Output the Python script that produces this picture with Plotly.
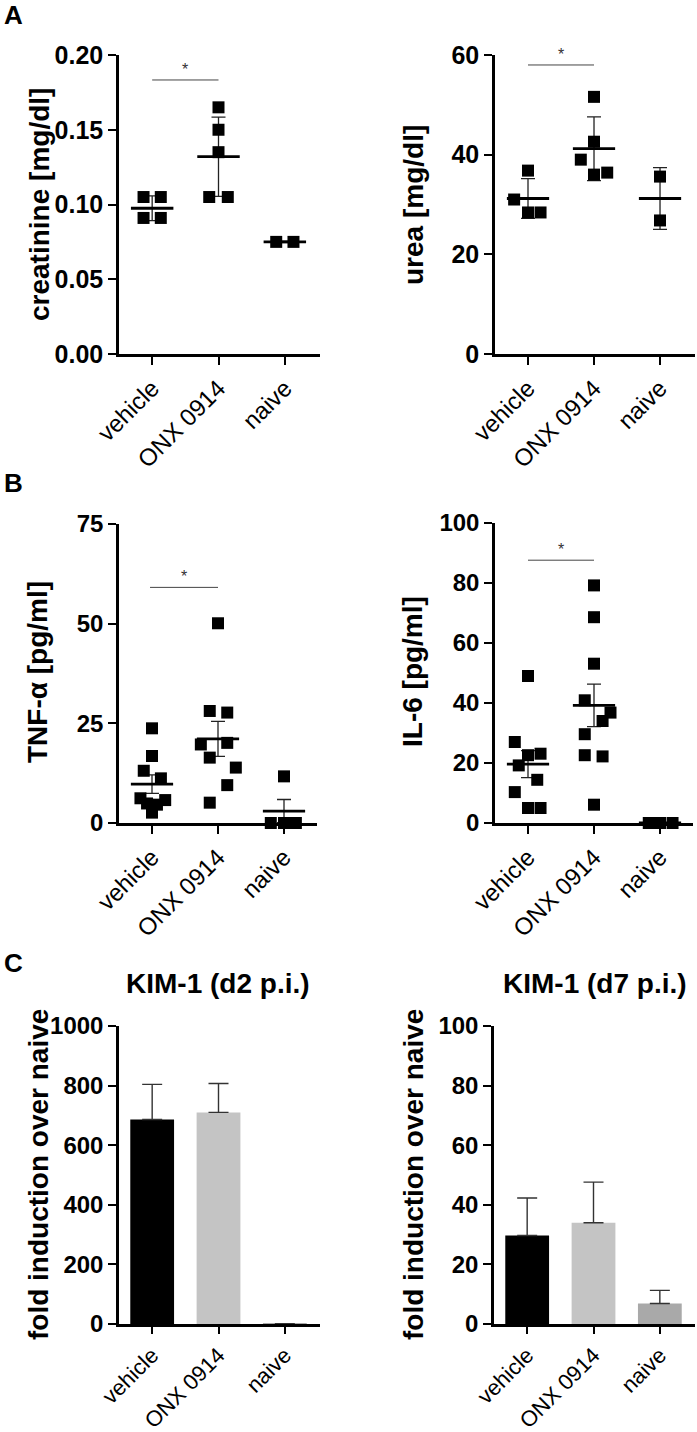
import plotly.graph_objects as go

# ---------------- data ----------------
groups = ["vehicle", "ONX 0914", "naive"]

# Panel A – creatinine [mg/dl]
creat_vehicle = [0.105, 0.105, 0.091, 0.091]
creat_onx = [0.165, 0.150, 0.135, 0.105, 0.105]
creat_naive = [0.075, 0.075]
creat_mean = [0.0975, 0.132, 0.075]
creat_sd = [0.0083, 0.0265, 0.0005]

# Panel A – urea [mg/dl]
urea_vehicle = [31.0, 36.8, 28.4, 28.4]
urea_onx = [51.6, 42.6, 39.0, 36.0, 36.4]
urea_naive = [35.6, 26.8]
urea_mean = [31.2, 41.2, 31.2]
urea_sd = [4.0, 6.4, 6.2]

# Panel B – TNF-α [pg/ml]
tnf_vehicle = [23.75, 16.8, 13.1, 11.2, 6.2, 5.75, 4.9, 4.6, 2.6]
tnf_onx = [50.1, 28.1, 27.7, 19.7, 20.1, 16.4, 13.9, 9.5, 5.1]
tnf_naive = [11.7, 0.0, 0.0, 0.0]
tnf_mean = [9.75, 21.1, 3.0]
tnf_sem = [2.3, 4.4, 2.9]

# Panel B – IL-6 [pg/ml]
il6_vehicle = [49.0, 27.0, 22.6, 23.1, 19.2, 14.4, 10.3, 5.0, 5.0]
il6_onx = [79.2, 68.6, 53.1, 40.9, 36.8, 34.0, 29.6, 22.6, 22.2, 6.1]
il6_naive = [0.0, 0.0, 0.0]
il6_mean = [19.6, 39.2, 0.0]
il6_sem = [4.5, 7.1, 0.0]

# Panel C – KIM-1 fold induction over naive
kim_d2 = [686, 710, 1]
kim_d2_err = [118, 97, 0]
kim_d7 = [29.7, 34.0, 6.9]
kim_d7_err = [12.6, 13.6, 4.4]

# horizontal scatter offsets of the dots (category units)
creat_off = [[-0.13, 0.13, -0.13, 0.13], [0, 0, 0, -0.14, 0.14], [-0.13, 0.13]]
urea_off = [[-0.21, 0, 0, 0.19], [0, 0, -0.2, 0, 0.2], [0, 0]]
tnf_off = [[0, 0, -0.125, 0.135, -0.175, 0.2, -0.075, 0.075, 0],
           [0, -0.125, 0.14, -0.26, 0.14, -0.125, 0.27, 0.14, -0.125],
           [0, -0.2, 0, 0.18]]
il6_off = [[0, -0.2, 0, 0.19, -0.14, 0.14, -0.2, 0, 0.19],
           [0, 0, 0, -0.14, 0.25, 0.13, -0.14, -0.14, 0.13, 0],
           [-0.17, 0, 0.19]]

# ---------------- layout helpers ----------------
W, H = 697, 1432
FONT = "Arial, Liberation Sans, sans-serif"
fig = go.Figure()


def xd(a, b):
    return [a / W, b / W]


def yd(bottom, top):
    return [1 - bottom / H, 1 - top / H]


panels = [
    # name, x-domain px, y-domain px, xrange, yrange, dtick, format, ytick size, xtick size
    ("1", (119, 320), (354, 55), [-0.5, 2.53], [0, 0.2], 0.05, ".2f", 25, 24),
    ("2", (495, 695), (354, 55), [-0.5, 2.53], [0, 60], 20, "d", 25, 24),
    ("3", (119, 317), (823, 524), [-0.5, 2.5], [0, 75], 25, "d", 24, 24),
    ("4", (495, 693), (823, 523), [-0.5, 2.5], [0, 100], 20, "d", 24, 24),
    ("5", (119, 320), (1324, 1026), [-0.5, 2.53], [0, 1000], 200, "d", 24, 22),
    ("6", (494, 695), (1324, 1026), [-0.5, 2.53], [0, 100], 20, "d", 24, 22),
]

layout_axes = {}
for name, xdp, ydp, xr, yr, dt, tf, fs, xfs in panels:
    xk = "xaxis" if name == "1" else "xaxis" + name
    yk = "yaxis" if name == "1" else "yaxis" + name
    xa = "x" if name == "1" else "x" + name
    ya = "y" if name == "1" else "y" + name
    layout_axes[xk] = dict(
        domain=xd(*xdp), range=xr, anchor=ya, tickmode="array",
        tickvals=[0, 1, 2], ticktext=groups, tickangle=-45, automargin=False,
        showline=True, linecolor="black", linewidth=2.5,
        ticks="outside", ticklen=8 if xfs == 24 else 7, tickwidth=2, tickcolor="black",
        showgrid=False, zeroline=False,
        tickfont=dict(family=FONT, size=xfs, color="black"),
    )
    layout_axes[yk] = dict(
        domain=yd(*ydp), range=yr, anchor=xa, dtick=dt, tick0=0, automargin=False,
        tickformat=tf, showline=True, linecolor="black", linewidth=2.5,
        ticks="outside", ticklen=8, tickwidth=2, tickcolor="black",
        showgrid=False, zeroline=False,
        tickfont=dict(family=FONT, size=fs, color="black", weight="bold"),
    )


def dot_panel(ax, groups_vals, offsets, means, errs):
    xa = "x" if ax == "1" else "x" + ax
    ya = "y" if ax == "1" else "y" + ax
    fig.add_trace(go.Scatter(
        x=[0, 1, 2], y=means, mode="markers", xaxis=xa, yaxis=ya,
        marker=dict(size=1, color="rgba(0,0,0,0)"), showlegend=False,
        error_y=dict(type="data", array=errs, visible=True, color="#222222",
                     thickness=1.3, width=7),
        cliponaxis=False, hoverinfo="skip"))
    mx, my = [], []
    for i, m in enumerate(means):
        mx += [i - 0.32, i + 0.32, None]
        my += [m, m, None]
    fig.add_trace(go.Scatter(
        x=mx, y=my, mode="lines", xaxis=xa, yaxis=ya,
        line=dict(color="black", width=2.8), showlegend=False,
        cliponaxis=False, hoverinfo="skip"))
    px, py = [], []
    for i, (vals, offs) in enumerate(zip(groups_vals, offsets)):
        px += [i + o for o in offs]
        py += list(vals)
    fig.add_trace(go.Scatter(
        x=px, y=py, mode="markers", xaxis=xa, yaxis=ya,
        marker=dict(symbol="square", size=12, color="black"),
        showlegend=False, cliponaxis=False))


dot_panel("1", [creat_vehicle, creat_onx, creat_naive], creat_off, creat_mean, creat_sd)
dot_panel("2", [urea_vehicle, urea_onx, urea_naive], urea_off, urea_mean, urea_sd)
dot_panel("3", [tnf_vehicle, tnf_onx, tnf_naive], tnf_off, tnf_mean, tnf_sem)
dot_panel("4", [il6_vehicle, il6_onx, il6_naive], il6_off, il6_mean, il6_sem)

bar_colors = ["#000000", "#c4c4c4", "#a9a9a9"]
for ax, vals, errs in [("5", kim_d2, kim_d2_err), ("6", kim_d7, kim_d7_err)]:
    fig.add_trace(go.Bar(
        x=[0, 1, 2], y=vals, xaxis="x" + ax, yaxis="y" + ax, width=0.66,
        marker=dict(color=bar_colors, line=dict(width=0)), showlegend=False,
        error_y=dict(type="data", symmetric=False, array=errs,
                     arrayminus=[0, 0, 0], color="#333333", thickness=1.4, width=10)))

# significance bars
sig = [("1", 0, 1, 0.1833), ("2", 0, 1, 58.0), ("3", -0.03, 1, 59.1), ("4", 0, 1, 87.6)]
shapes = []
annotations = []
for ax, x0, x1, yl in sig:
    xa = "x" if ax == "1" else "x" + ax
    ya = "y" if ax == "1" else "y" + ax
    shapes.append(dict(type="line", xref=xa, yref=ya, x0=x0, x1=x1, y0=yl, y1=yl,
                       line=dict(color="#444444", width=1)))
    annotations.append(dict(xref=xa, yref=ya, x=(x0 + x1) / 2, y=yl, text="*",
                            yanchor="bottom", yshift=0, showarrow=False,
                            font=dict(family=FONT, size=16, color="#333333")))

# y-axis titles (paper coordinates)
ytitles = [("creatinine [mg/dl]", 40, 205), ("urea [mg/dl]", 414, 205),
           ("TNF-α [pg/ml]", 38, 672), ("IL-6 [pg/ml]", 413, 672),
           ("fold induction over naive", 38, 1175), ("fold induction over naive", 413, 1175)]
for t, xp, ypx in ytitles:
    annotations.append(dict(xref="paper", yref="paper", x=xp / W, y=1 - ypx / H, text=t,
                            textangle=-90, showarrow=False, xanchor="center", yanchor="middle",
                            font=dict(family=FONT, size=28, color="black", weight="bold")))

# panel C titles
for t, xp in [("KIM-1 (d2 p.i.)", 218), ("KIM-1 (d7 p.i.)", 595)]:
    annotations.append(dict(xref="paper", yref="paper", x=xp / W, y=1 - 983 / H, text=t,
                            showarrow=False, xanchor="center", yanchor="middle",
                            font=dict(family=FONT, size=28, color="black", weight="bold")))

# panel letters
for t, ypx in [("A", 15), ("B", 483), ("C", 963)]:
    annotations.append(dict(xref="paper", yref="paper", x=2 / W, y=1 - ypx / H, text=t,
                            showarrow=False, xanchor="left", yanchor="middle",
                            font=dict(family=FONT, size=26, color="black", weight="bold")))

fig.update_layout(
    width=W, height=H, margin=dict(l=0, r=0, t=0, b=0, autoexpand=False),
    paper_bgcolor="white", plot_bgcolor="white", showlegend=False,
    shapes=shapes, annotations=annotations, bargap=0.3,
    **layout_axes)

fig.write_html("out.html", config={"displayModeBar": False},
               post_script="document.body.style.margin='0';")
